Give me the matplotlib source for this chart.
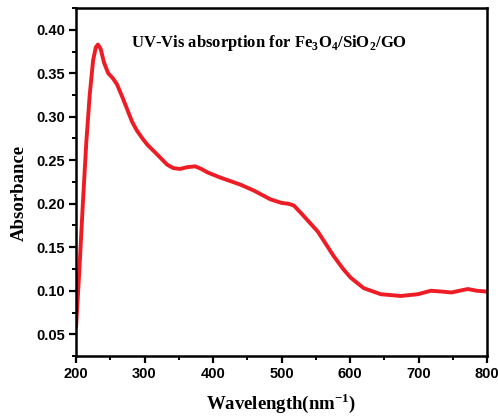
import matplotlib
matplotlib.use("Agg")
import matplotlib.pyplot as plt
from matplotlib.ticker import MultipleLocator, FormatStrFormatter

wavelength = [200, 205, 210, 215, 220, 225, 229, 232, 236, 241, 247, 254, 260, 268, 275, 282,
              289, 297, 304, 318, 333, 342, 352, 362, 374, 383, 392, 411, 440, 460, 484,
              500, 510, 518, 530, 553, 576, 590, 601, 620, 645, 674, 699, 718, 735, 748,
              760, 772, 785, 800]
absorbance = [0.057, 0.125, 0.20, 0.27, 0.325, 0.365, 0.380, 0.383, 0.378, 0.362, 0.350, 0.344,
              0.337, 0.322, 0.308, 0.294, 0.284, 0.275, 0.268, 0.257, 0.245, 0.241, 0.240,
              0.242, 0.243, 0.240, 0.236, 0.230, 0.222, 0.215, 0.205, 0.201, 0.200, 0.198,
              0.188, 0.168, 0.140, 0.125, 0.115, 0.103, 0.096, 0.094, 0.096, 0.100, 0.099,
              0.098, 0.100, 0.102, 0.100, 0.099]

title_text = "UV-Vis absorption for Fe$_\\mathbf{3}$O$_\\mathbf{4}$/SiO$_\\mathbf{2}$/GO"

plt.rcParams["mathtext.fontset"] = "custom"
plt.rcParams["mathtext.rm"] = "Liberation Serif:bold"
plt.rcParams["mathtext.bf"] = "Liberation Serif:bold"

fig = plt.figure(figsize=(4.98, 4.17), dpi=100)
ax = fig.add_axes([76/498, 1-356/417, (487-76)/498, (356-8)/417])

ax.plot(wavelength, absorbance, color="#ee1c24", lw=2.8, solid_joinstyle="round",
        solid_capstyle="butt")

ax.set_xlim(200, 800)
ax.set_ylim(0.025, 0.425)
ax.xaxis.set_major_locator(MultipleLocator(100))
ax.xaxis.set_minor_locator(MultipleLocator(50))
ax.set_yticks([0.05, 0.10, 0.15, 0.20, 0.25, 0.30, 0.35, 0.40])
ax.yaxis.set_minor_locator(MultipleLocator(0.025))
ax.yaxis.set_major_formatter(FormatStrFormatter("%.2f"))

for s in ax.spines.values():
    s.set_linewidth(1.8)
ax.tick_params(which="major", direction="out", length=5, width=1.6,
               labelsize=10.5, pad=3)
ax.tick_params(which="minor", direction="out", length=3, width=1.4)
for lab in ax.get_xticklabels() + ax.get_yticklabels():
    lab.set_fontfamily("Liberation Sans")
    lab.set_fontweight("bold")

ax.set_ylabel("Absorbance", fontfamily="Liberation Serif", fontweight="bold",
              fontsize=13.5)
ax.yaxis.set_label_coords(-0.117, 0.468)
ax.set_xlabel("Wavelength(nm$^{-1}$)", fontfamily="Liberation Serif", fontweight="bold",
              fontsize=13.5, labelpad=7)

ax.text(0.47, 0.90, title_text, transform=ax.transAxes, ha="center", va="center",
        fontfamily="Liberation Serif", fontweight="bold", fontsize=12)

fig.savefig("out.png", dpi=100)
